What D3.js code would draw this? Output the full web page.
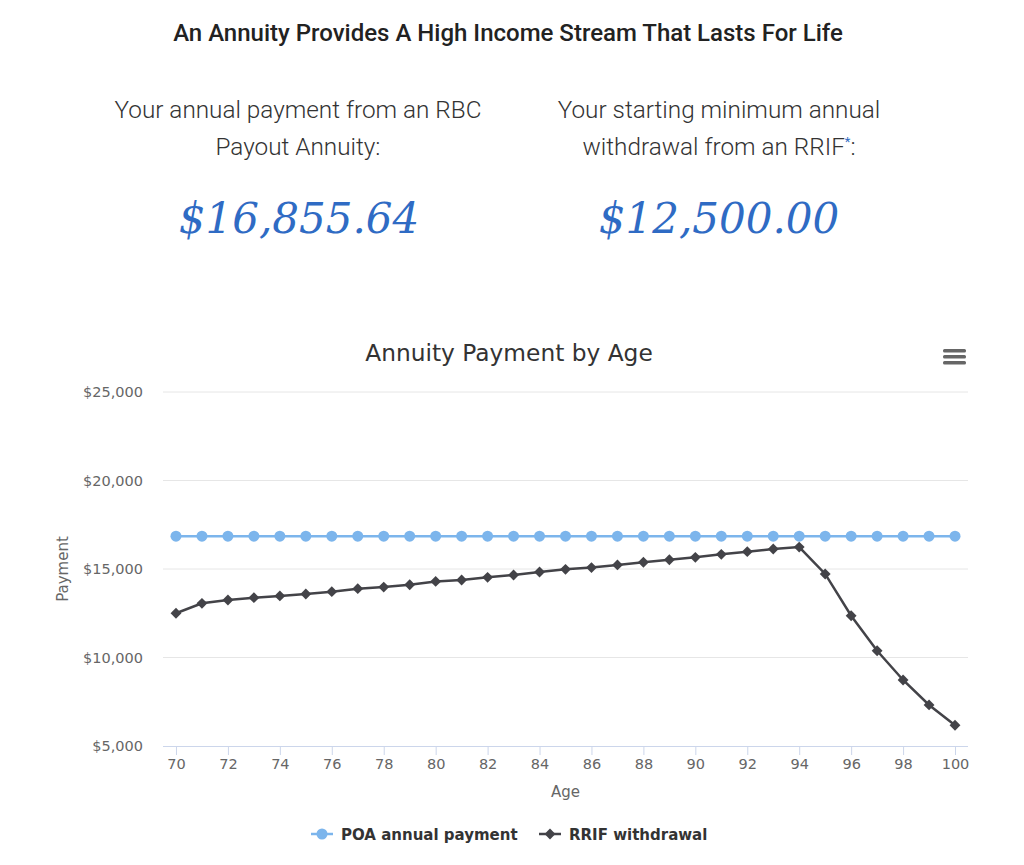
<!DOCTYPE html>
<html>
<head>
<meta charset="utf-8">
<script src="https://cdn.jsdelivr.net/npm/d3@7"></script>
<style>
  body { margin: 0; background: #fff; }
  svg { display: block; }
</style>
</head>
<body>
<svg id="chart" width="1024" height="865"></svg>
<script>
// chart data
var ages = d3.range(70, 101);
var poaPayment = [16855.64, 16855.64, 16855.64, 16855.64, 16855.64, 16855.64, 16855.64, 16855.64,
    16855.64, 16855.64, 16855.64, 16855.64, 16855.64, 16855.64, 16855.64, 16855.64,
    16855.64, 16855.64, 16855.64, 16855.64, 16855.64, 16855.64, 16855.64, 16855.64,
    16855.64, 16855.64, 16855.64, 16855.64, 16855.64, 16855.64, 16855.64];
var rrifWithdrawal = [12500, 13060, 13250, 13380, 13480, 13590, 13720, 13890, 13980, 14110,
    14300, 14380, 14530, 14660, 14830, 14980, 15080, 15230, 15380, 15520,
    15660, 15830, 15980, 16130, 16240, 14720, 12360, 10380, 8730, 7320, 6170];
var yTicks = [5000, 10000, 15000, 20000, 25000];
var xTicks = d3.range(70, 101, 2);
var seriesNames = ["POA annual payment", "RRIF withdrawal"];
var seriesColors = ["#7cb5ec", "#434348"];

var svg = d3.select("#chart");

// ---- header block ----
svg.append("text")
    .attr("x", 508).attr("y", 41)
    .attr("text-anchor", "middle")
    .style("font-family", "Roboto")
    .style("font-weight", 500)
    .style("font-size", "24px")
    .style("fill", "#222")
    .text("An Annuity Provides A High Income Stream That Lasts For Life");

function subhead(cx, lines) {
    var t = svg.append("text")
        .attr("text-anchor", "middle")
        .style("font-family", "Roboto")
        .style("font-weight", 300)
        .style("font-size", "24.3px")
        .style("fill", "#333");
    lines.forEach(function(l, i) {
        t.append("tspan").attr("x", cx).attr("y", 118 + i * 37).text(l);
    });
    return t;
}
subhead(298, ["Your annual payment from an RBC", "Payout Annuity:"]);
var rt = subhead(719, ["Your starting minimum annual", "withdrawal from an RRIF"]);
// the little blue asterisk and the colon
rt.select("tspan:last-child")
    .append("tspan").attr("dy", -9).style("font-size", "13px").style("font-weight", 400)
    .style("fill", "#2f6bc4").text("*");
rt.select("tspan:last-child")
    .append("tspan").attr("dy", 9).text(":");

function bigNumber(cx, str) {
    svg.append("text")
        .attr("x", cx).attr("y", 233)
        .attr("text-anchor", "middle")
        .style("font-family", "DejaVu Serif")
        .style("font-style", "italic")
        .style("font-size", "42px")
        .style("fill", "#2f6bc4")
        .text(str);
}
bigNumber(299, d3.format("$,.2f")(poaPayment[0]));
bigNumber(719, d3.format("$,.2f")(rrifWithdrawal[0]));

// ---- chart ----
var plot = { left: 163, right: 968, top: 392, bottom: 746 };

var x = d3.scaleLinear().domain([69.5, 100.5]).range([plot.left, plot.right]);
var y = d3.scaleLinear().domain([5000, 25000]).range([plot.bottom, plot.top]);

svg.append("text")
    .attr("x", 509).attr("y", 361)
    .attr("text-anchor", "middle")
    .style("font-family", "DejaVu Sans")
    .style("font-size", "23.3px")
    .style("fill", "#333")
    .text("Annuity Payment by Age");

// menu icon
svg.append("g").selectAll("rect")
    .data([0, 1, 2]).enter().append("rect")
    .attr("x", 943).attr("y", function(d) { return 349 + d * 6; })
    .attr("width", 23).attr("height", 3.5).attr("rx", 1.5)
    .style("fill", "#666");

// gridlines
svg.append("g").selectAll("line")
    .data(yTicks.slice(1)).enter().append("line")
    .attr("x1", plot.left).attr("x2", plot.right)
    .attr("y1", function(d) { return y(d); }).attr("y2", function(d) { return y(d); })
    .style("stroke", "#e6e6e6").style("stroke-width", 1);

// y axis labels
var yAxis = d3.axisLeft(y).tickValues(yTicks).tickSize(0).tickPadding(20)
    .tickFormat(d3.format("$,"));
var gy = svg.append("g").attr("transform", "translate(" + plot.left + ",0)").call(yAxis);
gy.select(".domain").remove();
gy.selectAll("text")
    .style("font-family", "DejaVu Sans").style("font-size", "14.5px").style("fill", "#666");

// x axis
var xAxis = d3.axisBottom(x).tickValues(xTicks).tickSize(9).tickPadding(4)
    .tickFormat(d3.format("d"));
var gx = svg.append("g").attr("transform", "translate(0," + plot.bottom + ")").call(xAxis);
gx.select(".domain").attr("d", "M" + plot.left + ",0.5H" + plot.right).style("stroke", "#ccd6eb");
gx.selectAll(".tick line").style("stroke", "#ccd6eb");
gx.selectAll("text")
    .style("font-family", "DejaVu Sans").style("font-size", "14.5px").style("fill", "#666");

svg.append("text")
    .attr("x", (plot.left + plot.right) / 2).attr("y", 797)
    .attr("text-anchor", "middle")
    .style("font-family", "DejaVu Sans").style("font-size", "15px").style("fill", "#666")
    .text("Age");

svg.append("text")
    .attr("transform", "translate(68," + ((plot.top + plot.bottom) / 2) + ") rotate(-90)")
    .attr("text-anchor", "middle")
    .style("font-family", "DejaVu Sans").style("font-size", "15px").style("fill", "#666")
    .text("Payment");

// series
var line = d3.line().x(function(d) { return x(d[0]); }).y(function(d) { return y(d[1]); });
var poaData = d3.zip(ages, poaPayment);
var rrifData = d3.zip(ages, rrifWithdrawal);

svg.append("path").datum(poaData).attr("d", line)
    .style("fill", "none").style("stroke", seriesColors[0]).style("stroke-width", 2.5);
svg.append("g").selectAll("circle")
    .data(poaData).enter().append("circle")
    .attr("cx", function(d) { return x(d[0]); })
    .attr("cy", function(d) { return y(d[1]); })
    .attr("r", 5.5)
    .style("fill", seriesColors[0]);

svg.append("path").datum(rrifData).attr("d", line)
    .style("fill", "none").style("stroke", seriesColors[1]).style("stroke-width", 2.5);
var diamond = d3.symbol().type(d3.symbolDiamond2).size(75);
svg.append("g").selectAll("path")
    .data(rrifData).enter().append("path")
    .attr("d", diamond)
    .attr("transform", function(d) { return "translate(" + x(d[0]) + "," + y(d[1]) + ")"; })
    .style("fill", seriesColors[1]);

// legend
var legend = svg.append("g");
var legendX = [311, 539];
seriesNames.forEach(function(name, i) {
    var g = legend.append("g").attr("transform", "translate(" + legendX[i] + ",834)");
    g.append("line").attr("x1", 0).attr("x2", 22)
        .style("stroke", seriesColors[i]).style("stroke-width", 2.5);
    if (i === 0) {
        g.append("circle").attr("cx", 11).attr("cy", 0).attr("r", 5.5).style("fill", seriesColors[i]);
    } else {
        g.append("path").attr("d", diamond).attr("transform", "translate(11,0)").style("fill", seriesColors[i]);
    }
    g.append("text").attr("x", 30).attr("y", 5.5)
        .style("font-family", "DejaVu Sans").style("font-weight", "bold")
        .style("font-size", "15px").style("fill", "#333")
        .text(name);
});
</script>
</body>
</html>
